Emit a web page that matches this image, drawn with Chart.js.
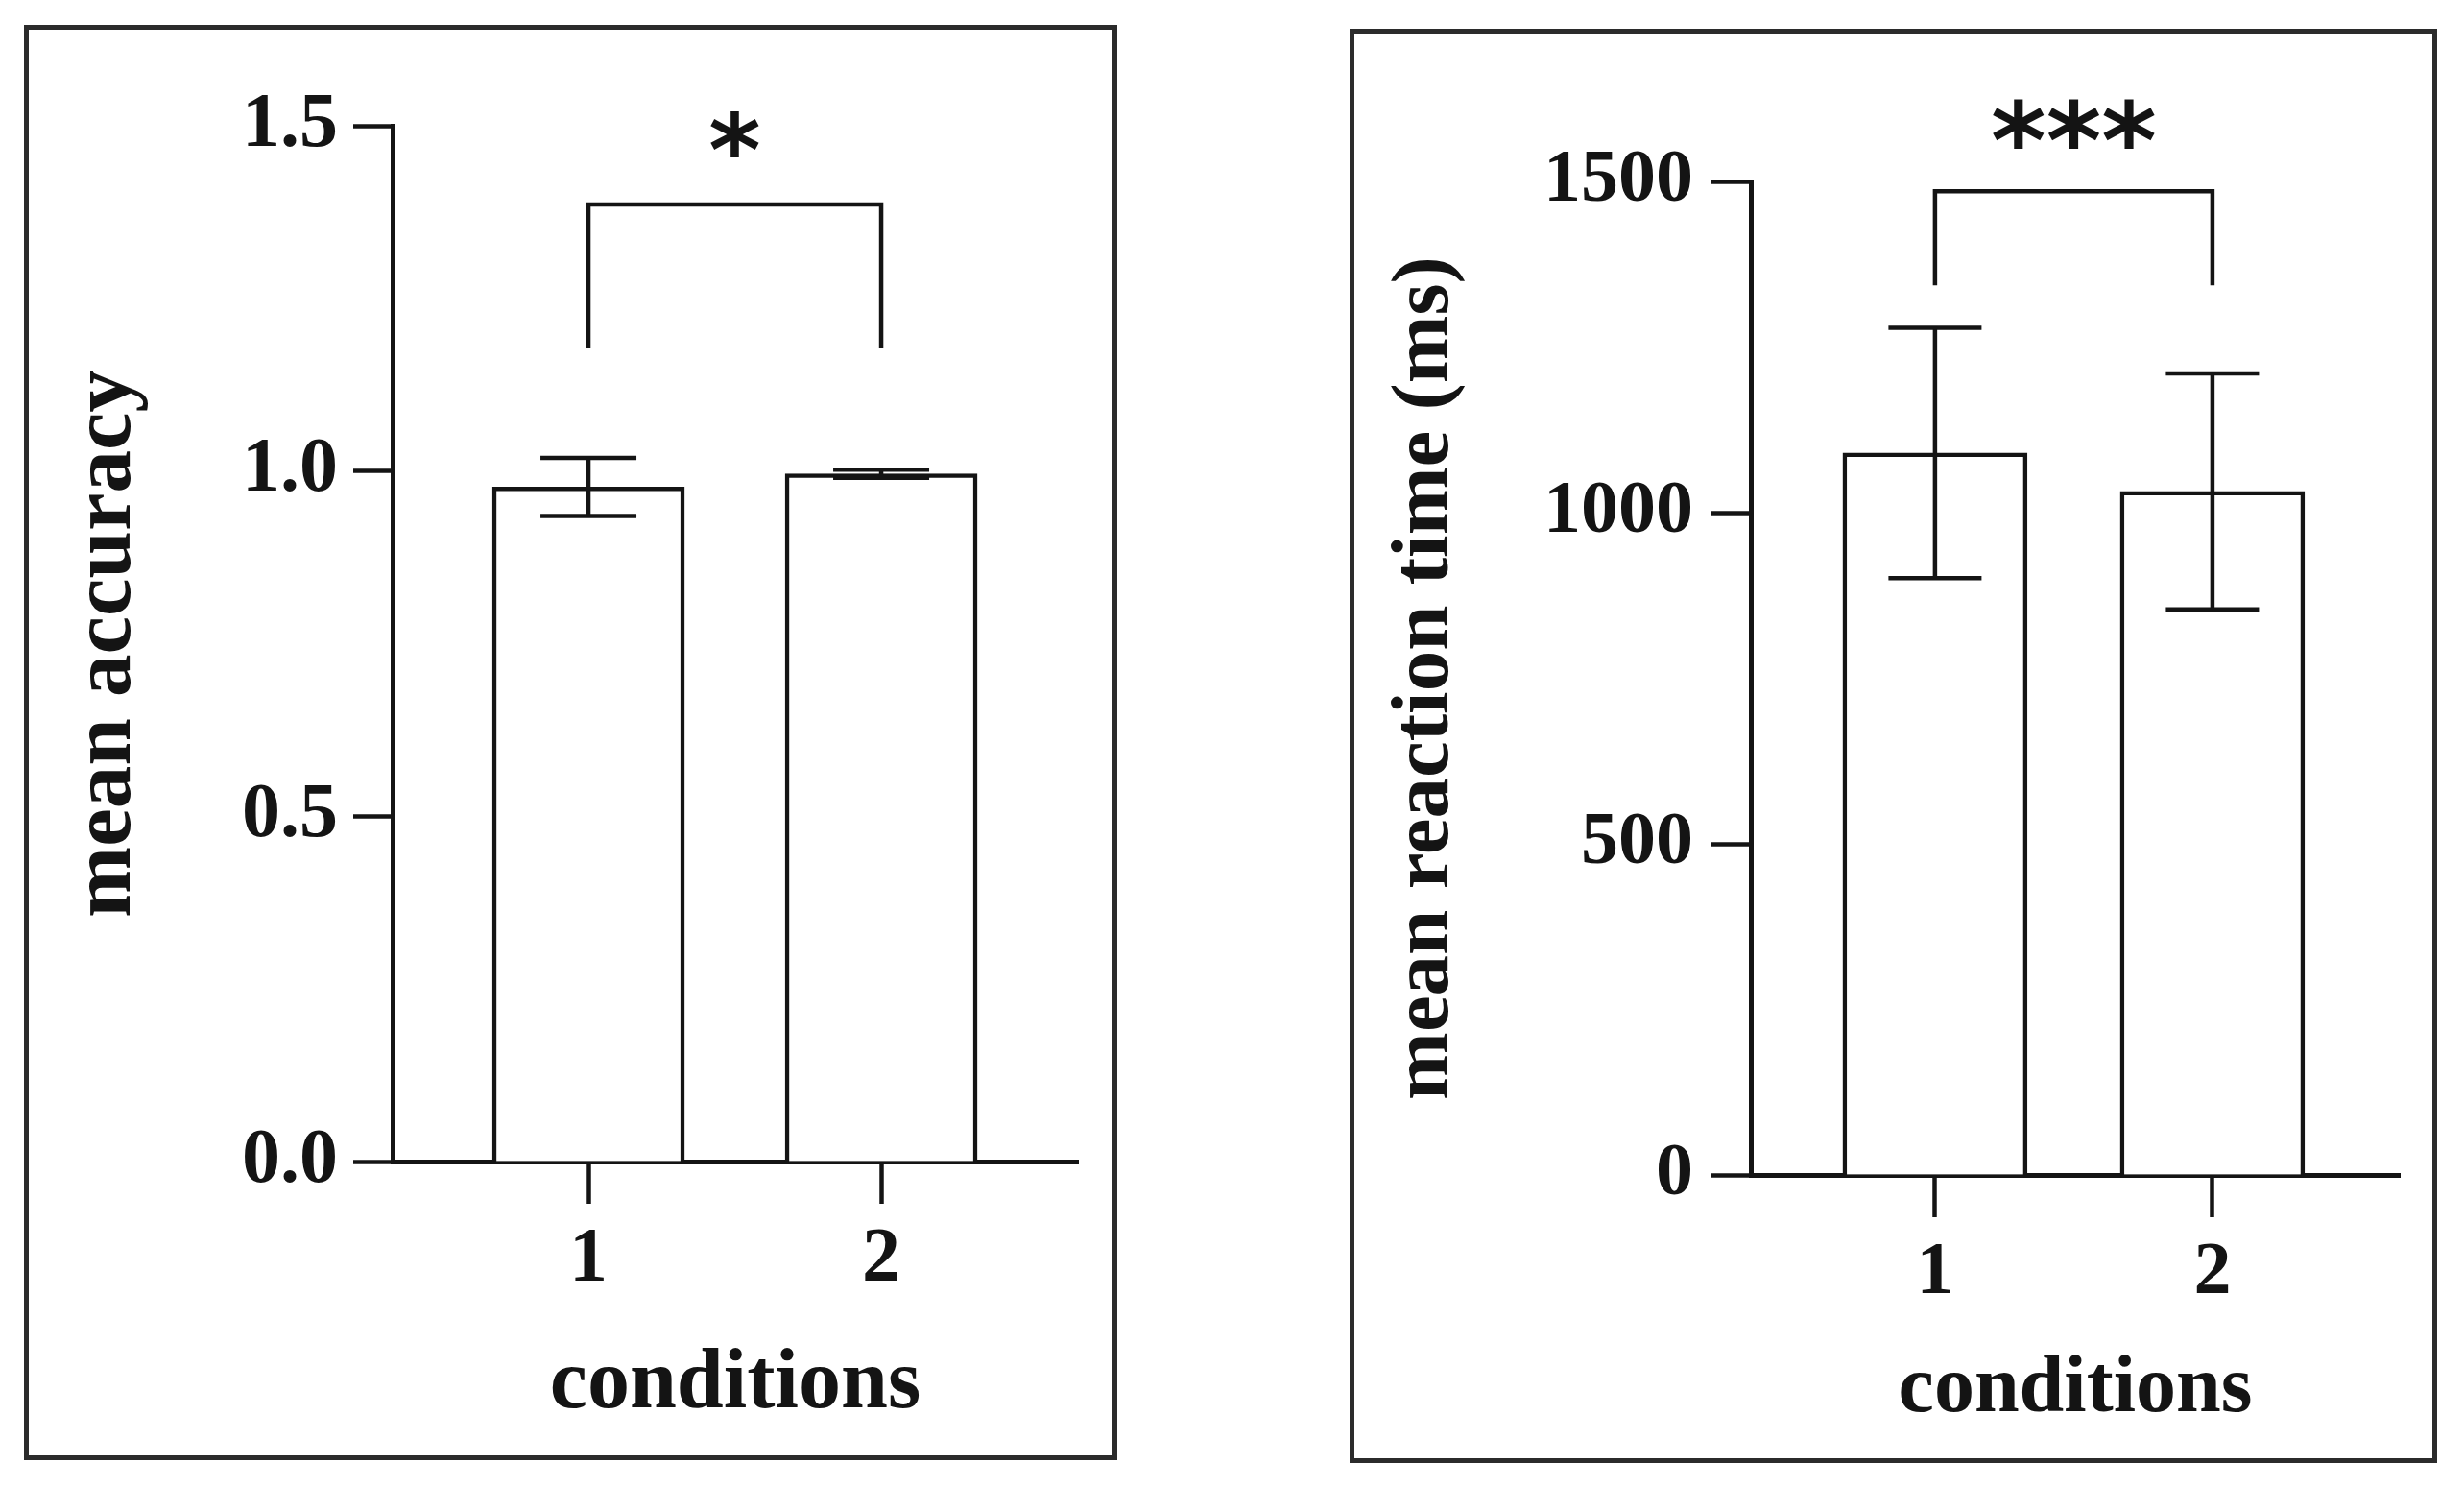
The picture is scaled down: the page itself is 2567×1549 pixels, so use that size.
<!DOCTYPE html>
<html><head><meta charset="utf-8">
<script src="https://cdn.jsdelivr.net/npm/chart.js@4.4.1/dist/chart.umd.min.js"></script>
<style>
html,body{margin:0;padding:0;background:#fff;width:2567px;height:1549px;overflow:hidden;}
.frame{position:absolute;box-sizing:border-box;border:5px solid #2b2b2b;}
canvas{position:absolute;top:0;}
</style></head><body>
<div class="frame" style="left:25px;top:26px;width:1139px;height:1495px"></div>
<div class="frame" style="left:1406px;top:30px;width:1133px;height:1494px"></div>
<canvas id="c1" width="1200" height="1549" style="left:0px"></canvas>
<canvas id="c2" width="1267" height="1549" style="left:1300px"></canvas>
<script>
// ---- data ----
const conditions = ['1', '2'];
const accuracyMeans = [0.977, 0.996];
const accuracyErrors = [0.042, 0.006];
const accuracyTicks = [0, 0.5, 1.0, 1.5];
const accuracyTickLabels = ['0.0', '0.5', '1.0', '1.5'];
const accuracyBracket = [1.386, 1.178];   // bracket bar, leg ends
const accuracyStarY = 1.488;
const accuracyStars = '*';

const rtMeans = [1090, 1032];
const rtErrors = [189, 178];
const rtTicks = [0, 500, 1000, 1500];
const rtTickLabels = ['0', '500', '1000', '1500'];
const rtBracket = [1485, 1343];
const rtStarY = 1587;
const rtStars = '***';

const INK = '#141414';
const SERIF = '"Liberation Serif", "Times New Roman", serif';

const errorBars = {
  id: 'errorBars',
  afterDatasetsDraw(chart, args, o) {
    const ctx = chart.ctx, x = chart.scales.x, y = chart.scales.y;
    ctx.save();
    ctx.strokeStyle = INK; ctx.lineWidth = o.lw; ctx.lineCap = 'butt'; ctx.lineJoin = 'miter';
    for (let i = 0; i < o.means.length; i++) {
      const px = x.getPixelForValue(i + 1);
      const t = y.getPixelForValue(o.means[i] + o.errs[i]);
      const b = y.getPixelForValue(o.means[i] - o.errs[i]);
      ctx.beginPath();
      ctx.moveTo(px, t); ctx.lineTo(px, b);
      ctx.moveTo(px - o.cap / 2, t); ctx.lineTo(px + o.cap / 2, t);
      ctx.moveTo(px - o.cap / 2, b); ctx.lineTo(px + o.cap / 2, b);
      ctx.stroke();
    }
    const x1 = x.getPixelForValue(1), x2 = x.getPixelForValue(2);
    const yb = y.getPixelForValue(o.bracket[0]), yl = y.getPixelForValue(o.bracket[1]);
    ctx.beginPath();
    ctx.moveTo(x1, yl); ctx.lineTo(x1, yb); ctx.lineTo(x2, yb); ctx.lineTo(x2, yl);
    ctx.stroke();
    ctx.font = o.starFont; ctx.fillStyle = INK;
    ctx.textAlign = 'center'; ctx.textBaseline = 'alphabetic';
    const m = ctx.measureText(o.stars);
    const yc = y.getPixelForValue(o.starY);
    ctx.fillText(o.stars, (x1 + x2) / 2, yc + (m.actualBoundingBoxAscent - m.actualBoundingBoxDescent) / 2);
    ctx.restore();
  }
};

function makeChart(id, p) {
  return new Chart(document.getElementById(id), {
    type: 'bar',
    data: {
      datasets: [{
        data: p.means.map((m, i) => ({ x: i + 1, y: m })),
        backgroundColor: '#ffffff',
        borderColor: INK,
        borderWidth: 4.5,
        borderSkipped: 'start',
        barThickness: p.barW
      }]
    },
    options: {
      responsive: false, animation: false, devicePixelRatio: 1,
      layout: { padding: p.pad },
      plugins: {
        legend: { display: false }, tooltip: { enabled: false },
        errorBars: { means: p.means, errs: p.errs, lw: 4.5, cap: p.cap, bracket: p.bracket,
                     starY: p.starY, stars: p.stars, starFont: p.starFont }
      },
      scales: {
        x: {
          type: 'linear', min: p.xMin, max: p.xMax, offset: false,
          afterBuildTicks: s => { s.ticks = conditions.map((c, i) => ({ value: i + 1 })); },
          afterFit: s => { s.height = p.xH; },
          ticks: {
            autoSkip: false, maxRotation: 0, color: INK, padding: p.xTickPad,
            font: { family: SERIF, weight: 'bold', size: p.tickSize },
            callback: v => conditions[Math.round(v) - 1] ?? ''
          },
          grid: { display: true, offset: false, drawOnChartArea: false, drawTicks: true, tickLength: 44, tickWidth: 4.5, tickColor: INK },
          border: { display: true, color: INK, width: 5 },
          title: { display: true, text: 'conditions', color: INK,
                   font: { family: SERIF, weight: 'bold', size: p.xTitleSize },
                   padding: { top: 0, bottom: p.xTitlePad } }
        },
        y: {
          type: 'linear', min: p.yTicks[0], max: p.yTicks[p.yTicks.length - 1],
          afterBuildTicks: s => { s.ticks = p.yTicks.map(v => ({ value: v })); },
          afterFit: s => { s.width = p.yW; },
          ticks: {
            color: INK, padding: p.yTickPad,
            font: { family: SERIF, weight: 'bold', size: p.tickSize },
            callback: v => p.yLabels[p.yTicks.indexOf(v)] ?? ''
          },
          grid: { display: true, offset: false, drawOnChartArea: false, drawTicks: true, tickLength: 41, tickWidth: 4.5, tickColor: INK },
          border: { display: true, color: INK, width: 5 },
          title: { display: true, text: p.yTitle, color: INK,
                   font: { family: SERIF, weight: 'bold', size: p.yTitleSize },
                   padding: { top: p.yTitlePad, bottom: 0 } }
        }
      }
    },
    plugins: [errorBars]
  });
}

makeChart('c1', {
  means: accuracyMeans, errs: accuracyErrors, yTicks: accuracyTicks, yLabels: accuracyTickLabels,
  bracket: accuracyBracket, starY: accuracyStarY, stars: accuracyStars,
  starFont: 'bold 104px "DejaVu Sans"', cap: 100, barW: 200,
  xMin: 0.331, xMax: 2.672, yW: 409, xH: 300,
  pad: { left: 0, right: 77, top: 131, bottom: 39 },
  tickSize: 80, xTickPad: 11, yTickPad: 16,
  xTitleSize: 88, xTitlePad: 14,
  yTitle: 'mean accuracy', yTitleSize: 89, yTitlePad: 59
});

makeChart('c2', {
  means: rtMeans, errs: rtErrors, yTicks: rtTicks, yLabels: rtTickLabels,
  bracket: rtBracket, starY: rtStarY, stars: rtStars,
  starFont: 'bold 110px "DejaVu Sans"', cap: 97, barW: 192,
  xMin: 0.336, xMax: 2.675, yW: 524, xH: 300,
  pad: { left: 0, right: 67, top: 189, bottom: 25 },
  tickSize: 78, xTickPad: 12, yTickPad: 19,
  xTitleSize: 84, xTitlePad: 25,
  yTitle: 'mean reaction time (ms)', yTitleSize: 85, yTitlePad: 135
});
</script>
</body></html>
